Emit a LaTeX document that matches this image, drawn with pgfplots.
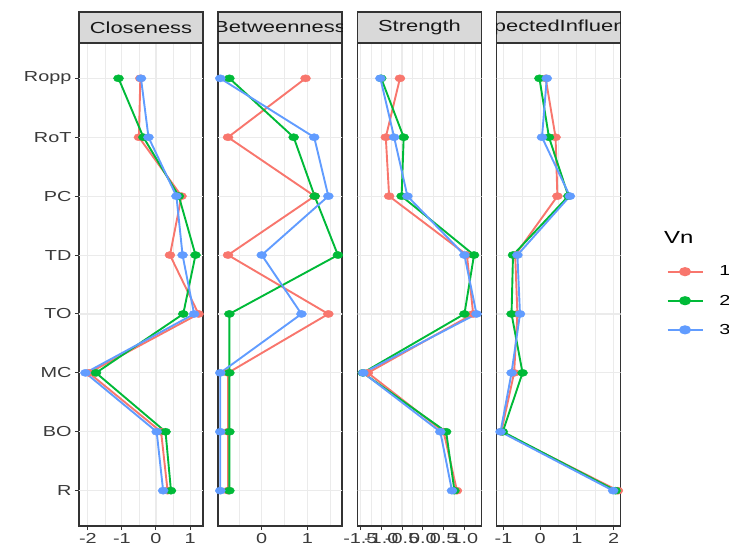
\documentclass[border=0pt]{standalone}
\usepackage{fontspec}
\setmainfont[FakeStretch=1.37]{Liberation Sans}
\usepackage{pgfplots}
\pgfplotsset{compat=1.18}
\usepackage{pgfplotstable}
\definecolor{c1}{HTML}{F8766D}
\definecolor{c2}{HTML}{00BA38}
\definecolor{c3}{HTML}{619CFF}
\definecolor{gridc}{HTML}{EBEBEB}
\definecolor{framec}{HTML}{333333}
\definecolor{stripc}{HTML}{D9D9D9}
\definecolor{ticklab}{HTML}{3A3A3A}

% y: R=1, BO=2, MC=3, TO=4, TD=5, PC=6, RoT=7, Ropp=8
\pgfplotstableread{
y v1 v2 v3
8 -0.46 -1.10 -0.44
7 -0.50 -0.37 -0.22
6 0.75 0.67 0.60
5 0.41 1.16 0.78
4 1.25 0.80 1.12
3 -1.97 -1.76 -2.07
2 0.15 0.28 0.02
1 0.34 0.44 0.21
}\clo
\pgfplotstableread{
y v1 v2 v3
8 0.96 -0.71 -0.91
7 -0.74 0.70 1.15
6 1.16 1.16 1.46
5 -0.74 1.67 0.00
4 1.46 -0.71 0.87
3 -0.74 -0.71 -0.91
2 -0.74 -0.71 -0.91
1 -0.74 -0.71 -0.91
}\bet
\pgfplotstableread{
y v1 v2 v3
8 -0.55 -1.00 -1.02
7 -0.89 -0.46 -0.69
6 -0.81 -0.51 -0.37
5 1.06 1.23 1.00
4 1.21 1.00 1.29
3 -1.32 -1.44 -1.43
2 0.50 0.56 0.42
1 0.82 0.76 0.70
}\str
\pgfplotstableread{
y v1 v2 v3
8 0.15 -0.02 0.18
7 0.42 0.24 0.05
6 0.47 0.77 0.81
5 -0.68 -0.74 -0.62
4 -0.62 -0.78 -0.55
3 -0.71 -0.48 -0.78
2 -1.06 -1.02 -1.08
1 2.12 2.06 1.99
}\ei

\pgfplotsset{
  panel/.style={
    scale only axis, width=124pt, height=483pt,
    anchor=south west, clip=true,
    ymin=0.4, ymax=8.6,
    axis line style={framec, line width=1.1pt},
    tick align=outside, major tick length=4pt, minor tick length=0pt,
    tick style={framec, line width=1pt},
    xtick pos=bottom, ytick pos=left,
    xmajorgrids, xminorgrids,
    major grid style={gridc, line width=1.1pt},
    minor grid style={gridc, line width=0.6pt},
    ticklabel style={font=\fontsize{14.5}{14.5}\selectfont, text=ticklab},
  },
  ln/.style={no markers, line width=1.9pt, forget plot},
  pt/.style={only marks, mark=*, mark size=3.6pt, mark options={xscale=1.4}, forget plot},
}
\newcommand{\hgrid}{\pgfplotsinvokeforeach{1,...,8}{\draw[gridc, line width=1.1pt] (axis cs:-10,##1) -- (axis cs:10,##1);}}
\newcommand{\series}[1]{%
  \addplot[ln, c1] table[x=v1, y=y] {#1};
  \addplot[ln, c2] table[x=v2, y=y] {#1};
  \addplot[ln, c3] table[x=v3, y=y] {#1};
  \addplot[pt, c1] table[x=v1, y=y] {#1};
  \addplot[pt, c2] table[x=v2, y=y] {#1};
  \addplot[pt, c3] table[x=v3, y=y] {#1};
}
\newcommand{\strip}[2]{%
  \draw[fill=stripc, draw=framec, line width=1.1pt] (#1.north west) rectangle ([yshift=31pt]#1.north east);
  \begin{scope}
    \clip (#1.north west) rectangle ([yshift=31pt]#1.north east);
    \node[font=\fontsize{16}{16}\selectfont, text=black!90, inner sep=0pt] at ([yshift=15.5pt]#1.north) {#2};
  \end{scope}
}

\begin{document}
\begin{tikzpicture}[x=1pt, y=1pt]
\useasboundingbox (0,0) rectangle (729,550);

\begin{axis}[panel, name=p1, at={(79pt,24pt)},
  xmin=-2.26, xmax=1.38,
  xtick={-2,-1,0,1}, xticklabels={-2,-1,0,1},
  minor xtick={-1.5,-0.5,0.5},
  ytick={1,...,8}, yticklabels={R,BO,MC,TO,TD,PC,RoT,Ropp}]
\hgrid
\series{\clo}
\end{axis}

\begin{axis}[panel, name=p2, at={(218pt,24pt)},
  xmin=-0.96, xmax=1.76,
  xtick={0,1}, xticklabels={0,1},
  minor xtick={-0.5,0.5,1.5},
  ytick=\empty]
\hgrid
\series{\bet}
\end{axis}

\begin{axis}[panel, name=p3, at={(357.5pt,24pt)},
  xmin=-1.57, xmax=1.41,
  xtick={-1.5,-1,-0.5,0,0.5,1}, xticklabels={-1.5,-1.0,-0.5,0.0,0.5,1.0},
  minor xtick={-1.25,-0.75,-0.25,0.25,0.75,1.25},
  ytick=\empty]
\hgrid
\series{\str}
\end{axis}

\begin{axis}[panel, name=p4, at={(496.5pt,24pt)},
  xmin=-1.19, xmax=2.19,
  xtick={-1,0,1,2}, xticklabels={-1,0,1,2},
  minor xtick={-0.5,0.5,1.5},
  ytick=\empty,
  legend style={at={(axis description cs:1.37,0.543)}, anchor=north west,
    draw=none, fill=none, font=\fontsize{14.5}{14.5}\selectfont, row sep=13.5pt,
    inner sep=0pt, /tikz/every odd column/.append style={column sep=14pt}},
  legend cell align=left,
  legend image code/.code={\draw[#1, mark repeat=2, mark phase=2] plot coordinates {(0pt,0pt) (17.5pt,0pt) (35pt,0pt)};}]
\hgrid
\series{\ei}
\addlegendimage{c1, line width=1.9pt, mark=*, mark size=3.6pt, mark options={xscale=1.4}}
\addlegendentry{1}
\addlegendimage{c2, line width=1.9pt, mark=*, mark size=3.6pt, mark options={xscale=1.4}}
\addlegendentry{2}
\addlegendimage{c3, line width=1.9pt, mark=*, mark size=3.6pt, mark options={xscale=1.4}}
\addlegendentry{3}
\end{axis}

\strip{p1}{Closeness}
\strip{p2}{Betweenness}
\strip{p3}{Strength}
\strip{p4}{ExpectedInfluence}

\node[anchor=west, font=\fontsize{17.5}{17.5}\selectfont, inner sep=0pt] at (664,313) {Vn};
\end{tikzpicture}
\end{document}
